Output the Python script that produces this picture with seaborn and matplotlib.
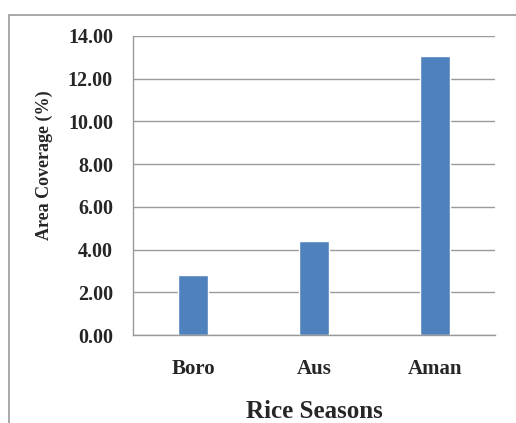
import matplotlib
matplotlib.use("Agg")
import matplotlib.pyplot as plt
import seaborn as sns
import pandas as pd
from matplotlib.patches import Rectangle

# Share of area under each rice season
seasons = ["Boro", "Aus", "Aman"]
coverage = [2.81, 4.40, 13.06]
y_ticks = [0, 2, 4, 6, 8, 10, 12, 14]

df = pd.DataFrame({"Season": seasons, "Coverage": coverage})

sns.set_theme(style="white")
plt.rcParams["font.family"] = ["Liberation Serif", "DejaVu Serif"]
plt.rcParams["font.weight"] = "bold"

fig = plt.figure(figsize=(5.16, 4.23), dpi=100)
ax = fig.add_axes([0.2578, 0.208, 0.7015, 0.7069])

sns.barplot(data=df, x="Season", y="Coverage", color="#4F81BD",
            width=0.25, saturation=1, ax=ax)

ax.set_ylim(0, 14)
ax.set_xlim(-0.5, 2.5)
ax.set_yticks(y_ticks)
ax.set_yticklabels([f"{v:.2f}" for v in y_ticks], fontsize=14.5, fontweight="bold")
ax.set_xticklabels(seasons, fontsize=15, fontweight="bold")
ax.tick_params(axis="x", length=0, pad=17.5)
ax.tick_params(axis="y", length=4.5, width=1, color="#999999", pad=10, direction="out")
ax.yaxis.grid(True, color="#9a9a9a", linewidth=1)
ax.set_axisbelow(True)

for side in ["top", "right"]:
    ax.spines[side].set_visible(False)
for side in ["left", "bottom"]:
    ax.spines[side].set_color("#9a9a9a")
    ax.spines[side].set_linewidth(1)

ax.set_xlabel("Rice Seasons", fontsize=18, fontweight="bold", labelpad=15)
ax.set_ylabel("Area Coverage (%)", fontsize=13, fontweight="bold")
ax.yaxis.set_label_coords(-0.222, 0.567)

# Chart frame
fig.patches.append(Rectangle((9 / 516, -0.1), 1.2, 1 - 15 / 423 + 0.1,
                             transform=fig.transFigure, fill=False,
                             edgecolor="#9a9a9a", linewidth=1.2))

fig.savefig("out.png", dpi=100)
